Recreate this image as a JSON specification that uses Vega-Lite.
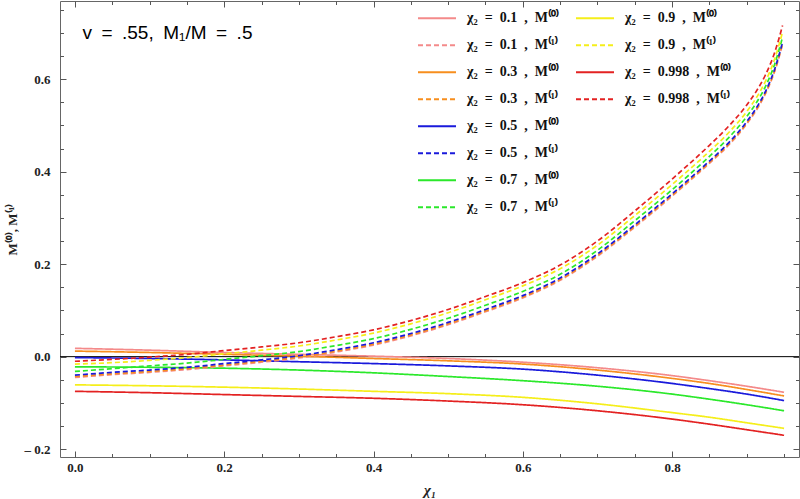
{
  "$schema": "https://vega.github.io/schema/vega-lite/v6.json",
  "width": 739,
  "height": 456,
  "autosize": "none",
  "padding": {"left": 60, "top": 1, "right": 1, "bottom": 42},
  "background": "white",
  "config": {
    "view": {"stroke": "#666", "strokeWidth": 1},
    "axis": {
      "domain": false, "grid": false,
      "labelFont": "Liberation Serif", "labelFontWeight": "bold", "labelFontSize": 13, "labelColor": "#222",
      "titleFont": "Liberation Serif", "titleFontWeight": "bold", "titleColor": "#222",
      "labelOverlap": false, "labelFlush": false
    },
    "legend": {
      "orient": "none", "title": null, "padding": 0,
      "symbolType": "stroke", "symbolSize": 1444, "symbolStrokeWidth": 2,
      "clipHeight": 26.3, "rowPadding": 0, "labelOffset": 10,
      "labelFont": "Liberation Serif", "labelFontWeight": "bold", "labelFontSize": 14, "labelColor": "#111"
    }
  },
  "data": {"values": [
    {"s":"χ₂ = 0.1 , M⁽⁰⁾","c":0.1,"m":"M0","x":0,"y":0.018},
    {"s":"χ₂ = 0.1 , M⁽⁰⁾","c":0.1,"m":"M0","x":0.1,"y":0.014},
    {"s":"χ₂ = 0.1 , M⁽⁰⁾","c":0.1,"m":"M0","x":0.2,"y":0.009},
    {"s":"χ₂ = 0.1 , M⁽⁰⁾","c":0.1,"m":"M0","x":0.3,"y":0.005},
    {"s":"χ₂ = 0.1 , M⁽⁰⁾","c":0.1,"m":"M0","x":0.4,"y":0.001},
    {"s":"χ₂ = 0.1 , M⁽⁰⁾","c":0.1,"m":"M0","x":0.5,"y":-0.004},
    {"s":"χ₂ = 0.1 , M⁽⁰⁾","c":0.1,"m":"M0","x":0.6,"y":-0.012},
    {"s":"χ₂ = 0.1 , M⁽⁰⁾","c":0.1,"m":"M0","x":0.7,"y":-0.024},
    {"s":"χ₂ = 0.1 , M⁽⁰⁾","c":0.1,"m":"M0","x":0.8,"y":-0.041},
    {"s":"χ₂ = 0.1 , M⁽⁰⁾","c":0.1,"m":"M0","x":0.85,"y":-0.052},
    {"s":"χ₂ = 0.1 , M⁽⁰⁾","c":0.1,"m":"M0","x":0.9,"y":-0.064},
    {"s":"χ₂ = 0.1 , M⁽⁰⁾","c":0.1,"m":"M0","x":0.95,"y":-0.077},

    {"s":"χ₂ = 0.3 , M⁽⁰⁾","c":0.3,"m":"M0","x":0,"y":0.012},
    {"s":"χ₂ = 0.3 , M⁽⁰⁾","c":0.3,"m":"M0","x":0.1,"y":0.009},
    {"s":"χ₂ = 0.3 , M⁽⁰⁾","c":0.3,"m":"M0","x":0.2,"y":0.005},
    {"s":"χ₂ = 0.3 , M⁽⁰⁾","c":0.3,"m":"M0","x":0.3,"y":0.001},
    {"s":"χ₂ = 0.3 , M⁽⁰⁾","c":0.3,"m":"M0","x":0.4,"y":-0.004},
    {"s":"χ₂ = 0.3 , M⁽⁰⁾","c":0.3,"m":"M0","x":0.5,"y":-0.009},
    {"s":"χ₂ = 0.3 , M⁽⁰⁾","c":0.3,"m":"M0","x":0.6,"y":-0.016},
    {"s":"χ₂ = 0.3 , M⁽⁰⁾","c":0.3,"m":"M0","x":0.7,"y":-0.029},
    {"s":"χ₂ = 0.3 , M⁽⁰⁾","c":0.3,"m":"M0","x":0.8,"y":-0.047},
    {"s":"χ₂ = 0.3 , M⁽⁰⁾","c":0.3,"m":"M0","x":0.85,"y":-0.058},
    {"s":"χ₂ = 0.3 , M⁽⁰⁾","c":0.3,"m":"M0","x":0.9,"y":-0.071},
    {"s":"χ₂ = 0.3 , M⁽⁰⁾","c":0.3,"m":"M0","x":0.95,"y":-0.085},

    {"s":"χ₂ = 0.5 , M⁽⁰⁾","c":0.5,"m":"M0","x":0,"y":-0.002},
    {"s":"χ₂ = 0.5 , M⁽⁰⁾","c":0.5,"m":"M0","x":0.1,"y":-0.004},
    {"s":"χ₂ = 0.5 , M⁽⁰⁾","c":0.5,"m":"M0","x":0.2,"y":-0.007},
    {"s":"χ₂ = 0.5 , M⁽⁰⁾","c":0.5,"m":"M0","x":0.3,"y":-0.011},
    {"s":"χ₂ = 0.5 , M⁽⁰⁾","c":0.5,"m":"M0","x":0.4,"y":-0.015},
    {"s":"χ₂ = 0.5 , M⁽⁰⁾","c":0.5,"m":"M0","x":0.5,"y":-0.020},
    {"s":"χ₂ = 0.5 , M⁽⁰⁾","c":0.5,"m":"M0","x":0.6,"y":-0.027},
    {"s":"χ₂ = 0.5 , M⁽⁰⁾","c":0.5,"m":"M0","x":0.7,"y":-0.040},
    {"s":"χ₂ = 0.5 , M⁽⁰⁾","c":0.5,"m":"M0","x":0.8,"y":-0.058},
    {"s":"χ₂ = 0.5 , M⁽⁰⁾","c":0.5,"m":"M0","x":0.85,"y":-0.069},
    {"s":"χ₂ = 0.5 , M⁽⁰⁾","c":0.5,"m":"M0","x":0.9,"y":-0.081},
    {"s":"χ₂ = 0.5 , M⁽⁰⁾","c":0.5,"m":"M0","x":0.95,"y":-0.095},

    {"s":"χ₂ = 0.7 , M⁽⁰⁾","c":0.7,"m":"M0","x":0,"y":-0.022},
    {"s":"χ₂ = 0.7 , M⁽⁰⁾","c":0.7,"m":"M0","x":0.1,"y":-0.023},
    {"s":"χ₂ = 0.7 , M⁽⁰⁾","c":0.7,"m":"M0","x":0.2,"y":-0.025},
    {"s":"χ₂ = 0.7 , M⁽⁰⁾","c":0.7,"m":"M0","x":0.3,"y":-0.029},
    {"s":"χ₂ = 0.7 , M⁽⁰⁾","c":0.7,"m":"M0","x":0.4,"y":-0.035},
    {"s":"χ₂ = 0.7 , M⁽⁰⁾","c":0.7,"m":"M0","x":0.5,"y":-0.043},
    {"s":"χ₂ = 0.7 , M⁽⁰⁾","c":0.7,"m":"M0","x":0.6,"y":-0.052},
    {"s":"χ₂ = 0.7 , M⁽⁰⁾","c":0.7,"m":"M0","x":0.7,"y":-0.064},
    {"s":"χ₂ = 0.7 , M⁽⁰⁾","c":0.7,"m":"M0","x":0.8,"y":-0.081},
    {"s":"χ₂ = 0.7 , M⁽⁰⁾","c":0.7,"m":"M0","x":0.85,"y":-0.092},
    {"s":"χ₂ = 0.7 , M⁽⁰⁾","c":0.7,"m":"M0","x":0.9,"y":-0.104},
    {"s":"χ₂ = 0.7 , M⁽⁰⁾","c":0.7,"m":"M0","x":0.95,"y":-0.117},

    {"s":"χ₂ = 0.9 , M⁽⁰⁾","c":0.9,"m":"M0","x":0,"y":-0.061},
    {"s":"χ₂ = 0.9 , M⁽⁰⁾","c":0.9,"m":"M0","x":0.1,"y":-0.063},
    {"s":"χ₂ = 0.9 , M⁽⁰⁾","c":0.9,"m":"M0","x":0.2,"y":-0.066},
    {"s":"χ₂ = 0.9 , M⁽⁰⁾","c":0.9,"m":"M0","x":0.3,"y":-0.070},
    {"s":"χ₂ = 0.9 , M⁽⁰⁾","c":0.9,"m":"M0","x":0.4,"y":-0.075},
    {"s":"χ₂ = 0.9 , M⁽⁰⁾","c":0.9,"m":"M0","x":0.5,"y":-0.080},
    {"s":"χ₂ = 0.9 , M⁽⁰⁾","c":0.9,"m":"M0","x":0.6,"y":-0.088},
    {"s":"χ₂ = 0.9 , M⁽⁰⁾","c":0.9,"m":"M0","x":0.7,"y":-0.102},
    {"s":"χ₂ = 0.9 , M⁽⁰⁾","c":0.9,"m":"M0","x":0.8,"y":-0.121},
    {"s":"χ₂ = 0.9 , M⁽⁰⁾","c":0.9,"m":"M0","x":0.85,"y":-0.131},
    {"s":"χ₂ = 0.9 , M⁽⁰⁾","c":0.9,"m":"M0","x":0.9,"y":-0.143},
    {"s":"χ₂ = 0.9 , M⁽⁰⁾","c":0.9,"m":"M0","x":0.95,"y":-0.155},

    {"s":"χ₂ = 0.998 , M⁽⁰⁾","c":0.998,"m":"M0","x":0,"y":-0.075},
    {"s":"χ₂ = 0.998 , M⁽⁰⁾","c":0.998,"m":"M0","x":0.1,"y":-0.078},
    {"s":"χ₂ = 0.998 , M⁽⁰⁾","c":0.998,"m":"M0","x":0.2,"y":-0.082},
    {"s":"χ₂ = 0.998 , M⁽⁰⁾","c":0.998,"m":"M0","x":0.3,"y":-0.086},
    {"s":"χ₂ = 0.998 , M⁽⁰⁾","c":0.998,"m":"M0","x":0.4,"y":-0.090},
    {"s":"χ₂ = 0.998 , M⁽⁰⁾","c":0.998,"m":"M0","x":0.5,"y":-0.096},
    {"s":"χ₂ = 0.998 , M⁽⁰⁾","c":0.998,"m":"M0","x":0.6,"y":-0.104},
    {"s":"χ₂ = 0.998 , M⁽⁰⁾","c":0.998,"m":"M0","x":0.7,"y":-0.117},
    {"s":"χ₂ = 0.998 , M⁽⁰⁾","c":0.998,"m":"M0","x":0.8,"y":-0.135},
    {"s":"χ₂ = 0.998 , M⁽⁰⁾","c":0.998,"m":"M0","x":0.85,"y":-0.146},
    {"s":"χ₂ = 0.998 , M⁽⁰⁾","c":0.998,"m":"M0","x":0.9,"y":-0.158},
    {"s":"χ₂ = 0.998 , M⁽⁰⁾","c":0.998,"m":"M0","x":0.95,"y":-0.170},

    {"s":"χ₂ = 0.1 , M⁽¹⁾","c":0.1,"m":"M1","x":0,"y":-0.045},
    {"s":"χ₂ = 0.1 , M⁽¹⁾","c":0.1,"m":"M1","x":0.05,"y":-0.039},
    {"s":"χ₂ = 0.1 , M⁽¹⁾","c":0.1,"m":"M1","x":0.1,"y":-0.034},
    {"s":"χ₂ = 0.1 , M⁽¹⁾","c":0.1,"m":"M1","x":0.15,"y":-0.028},
    {"s":"χ₂ = 0.1 , M⁽¹⁾","c":0.1,"m":"M1","x":0.2,"y":-0.020},
    {"s":"χ₂ = 0.1 , M⁽¹⁾","c":0.1,"m":"M1","x":0.25,"y":-0.012},
    {"s":"χ₂ = 0.1 , M⁽¹⁾","c":0.1,"m":"M1","x":0.3,"y":-0.003},
    {"s":"χ₂ = 0.1 , M⁽¹⁾","c":0.1,"m":"M1","x":0.35,"y":0.010},
    {"s":"χ₂ = 0.1 , M⁽¹⁾","c":0.1,"m":"M1","x":0.4,"y":0.025},
    {"s":"χ₂ = 0.1 , M⁽¹⁾","c":0.1,"m":"M1","x":0.45,"y":0.045},
    {"s":"χ₂ = 0.1 , M⁽¹⁾","c":0.1,"m":"M1","x":0.5,"y":0.069},
    {"s":"χ₂ = 0.1 , M⁽¹⁾","c":0.1,"m":"M1","x":0.55,"y":0.097},
    {"s":"χ₂ = 0.1 , M⁽¹⁾","c":0.1,"m":"M1","x":0.6,"y":0.127},
    {"s":"χ₂ = 0.1 , M⁽¹⁾","c":0.1,"m":"M1","x":0.65,"y":0.165},
    {"s":"χ₂ = 0.1 , M⁽¹⁾","c":0.1,"m":"M1","x":0.7,"y":0.217},
    {"s":"χ₂ = 0.1 , M⁽¹⁾","c":0.1,"m":"M1","x":0.75,"y":0.280},
    {"s":"χ₂ = 0.1 , M⁽¹⁾","c":0.1,"m":"M1","x":0.8,"y":0.347},
    {"s":"χ₂ = 0.1 , M⁽¹⁾","c":0.1,"m":"M1","x":0.85,"y":0.418},
    {"s":"χ₂ = 0.1 , M⁽¹⁾","c":0.1,"m":"M1","x":0.875,"y":0.456},
    {"s":"χ₂ = 0.1 , M⁽¹⁾","c":0.1,"m":"M1","x":0.9,"y":0.503},
    {"s":"χ₂ = 0.1 , M⁽¹⁾","c":0.1,"m":"M1","x":0.9125,"y":0.532},
    {"s":"χ₂ = 0.1 , M⁽¹⁾","c":0.1,"m":"M1","x":0.925,"y":0.568},
    {"s":"χ₂ = 0.1 , M⁽¹⁾","c":0.1,"m":"M1","x":0.9375,"y":0.617},
    {"s":"χ₂ = 0.1 , M⁽¹⁾","c":0.1,"m":"M1","x":0.948,"y":0.675},

    {"s":"χ₂ = 0.3 , M⁽¹⁾","c":0.3,"m":"M1","x":0,"y":-0.043},
    {"s":"χ₂ = 0.3 , M⁽¹⁾","c":0.3,"m":"M1","x":0.05,"y":-0.037},
    {"s":"χ₂ = 0.3 , M⁽¹⁾","c":0.3,"m":"M1","x":0.1,"y":-0.032},
    {"s":"χ₂ = 0.3 , M⁽¹⁾","c":0.3,"m":"M1","x":0.15,"y":-0.026},
    {"s":"χ₂ = 0.3 , M⁽¹⁾","c":0.3,"m":"M1","x":0.2,"y":-0.018},
    {"s":"χ₂ = 0.3 , M⁽¹⁾","c":0.3,"m":"M1","x":0.25,"y":-0.010},
    {"s":"χ₂ = 0.3 , M⁽¹⁾","c":0.3,"m":"M1","x":0.3,"y":-0.001},
    {"s":"χ₂ = 0.3 , M⁽¹⁾","c":0.3,"m":"M1","x":0.35,"y":0.012},
    {"s":"χ₂ = 0.3 , M⁽¹⁾","c":0.3,"m":"M1","x":0.4,"y":0.027},
    {"s":"χ₂ = 0.3 , M⁽¹⁾","c":0.3,"m":"M1","x":0.45,"y":0.047},
    {"s":"χ₂ = 0.3 , M⁽¹⁾","c":0.3,"m":"M1","x":0.5,"y":0.071},
    {"s":"χ₂ = 0.3 , M⁽¹⁾","c":0.3,"m":"M1","x":0.55,"y":0.099},
    {"s":"χ₂ = 0.3 , M⁽¹⁾","c":0.3,"m":"M1","x":0.6,"y":0.129},
    {"s":"χ₂ = 0.3 , M⁽¹⁾","c":0.3,"m":"M1","x":0.65,"y":0.167},
    {"s":"χ₂ = 0.3 , M⁽¹⁾","c":0.3,"m":"M1","x":0.7,"y":0.219},
    {"s":"χ₂ = 0.3 , M⁽¹⁾","c":0.3,"m":"M1","x":0.75,"y":0.282},
    {"s":"χ₂ = 0.3 , M⁽¹⁾","c":0.3,"m":"M1","x":0.8,"y":0.349},
    {"s":"χ₂ = 0.3 , M⁽¹⁾","c":0.3,"m":"M1","x":0.85,"y":0.420},
    {"s":"χ₂ = 0.3 , M⁽¹⁾","c":0.3,"m":"M1","x":0.875,"y":0.458},
    {"s":"χ₂ = 0.3 , M⁽¹⁾","c":0.3,"m":"M1","x":0.9,"y":0.505},
    {"s":"χ₂ = 0.3 , M⁽¹⁾","c":0.3,"m":"M1","x":0.9125,"y":0.534},
    {"s":"χ₂ = 0.3 , M⁽¹⁾","c":0.3,"m":"M1","x":0.925,"y":0.570},
    {"s":"χ₂ = 0.3 , M⁽¹⁾","c":0.3,"m":"M1","x":0.9375,"y":0.619},
    {"s":"χ₂ = 0.3 , M⁽¹⁾","c":0.3,"m":"M1","x":0.948,"y":0.677},

    {"s":"χ₂ = 0.5 , M⁽¹⁾","c":0.5,"m":"M1","x":0,"y":-0.040},
    {"s":"χ₂ = 0.5 , M⁽¹⁾","c":0.5,"m":"M1","x":0.05,"y":-0.034},
    {"s":"χ₂ = 0.5 , M⁽¹⁾","c":0.5,"m":"M1","x":0.1,"y":-0.029},
    {"s":"χ₂ = 0.5 , M⁽¹⁾","c":0.5,"m":"M1","x":0.15,"y":-0.023},
    {"s":"χ₂ = 0.5 , M⁽¹⁾","c":0.5,"m":"M1","x":0.2,"y":-0.015},
    {"s":"χ₂ = 0.5 , M⁽¹⁾","c":0.5,"m":"M1","x":0.25,"y":-0.007},
    {"s":"χ₂ = 0.5 , M⁽¹⁾","c":0.5,"m":"M1","x":0.3,"y":0.002},
    {"s":"χ₂ = 0.5 , M⁽¹⁾","c":0.5,"m":"M1","x":0.35,"y":0.015},
    {"s":"χ₂ = 0.5 , M⁽¹⁾","c":0.5,"m":"M1","x":0.4,"y":0.030},
    {"s":"χ₂ = 0.5 , M⁽¹⁾","c":0.5,"m":"M1","x":0.45,"y":0.050},
    {"s":"χ₂ = 0.5 , M⁽¹⁾","c":0.5,"m":"M1","x":0.5,"y":0.074},
    {"s":"χ₂ = 0.5 , M⁽¹⁾","c":0.5,"m":"M1","x":0.55,"y":0.102},
    {"s":"χ₂ = 0.5 , M⁽¹⁾","c":0.5,"m":"M1","x":0.6,"y":0.132},
    {"s":"χ₂ = 0.5 , M⁽¹⁾","c":0.5,"m":"M1","x":0.65,"y":0.170},
    {"s":"χ₂ = 0.5 , M⁽¹⁾","c":0.5,"m":"M1","x":0.7,"y":0.222},
    {"s":"χ₂ = 0.5 , M⁽¹⁾","c":0.5,"m":"M1","x":0.75,"y":0.285},
    {"s":"χ₂ = 0.5 , M⁽¹⁾","c":0.5,"m":"M1","x":0.8,"y":0.352},
    {"s":"χ₂ = 0.5 , M⁽¹⁾","c":0.5,"m":"M1","x":0.85,"y":0.423},
    {"s":"χ₂ = 0.5 , M⁽¹⁾","c":0.5,"m":"M1","x":0.875,"y":0.461},
    {"s":"χ₂ = 0.5 , M⁽¹⁾","c":0.5,"m":"M1","x":0.9,"y":0.508},
    {"s":"χ₂ = 0.5 , M⁽¹⁾","c":0.5,"m":"M1","x":0.9125,"y":0.537},
    {"s":"χ₂ = 0.5 , M⁽¹⁾","c":0.5,"m":"M1","x":0.925,"y":0.573},
    {"s":"χ₂ = 0.5 , M⁽¹⁾","c":0.5,"m":"M1","x":0.9375,"y":0.622},
    {"s":"χ₂ = 0.5 , M⁽¹⁾","c":0.5,"m":"M1","x":0.948,"y":0.680},

    {"s":"χ₂ = 0.7 , M⁽¹⁾","c":0.7,"m":"M1","x":0,"y":-0.032},
    {"s":"χ₂ = 0.7 , M⁽¹⁾","c":0.7,"m":"M1","x":0.05,"y":-0.026},
    {"s":"χ₂ = 0.7 , M⁽¹⁾","c":0.7,"m":"M1","x":0.1,"y":-0.020},
    {"s":"χ₂ = 0.7 , M⁽¹⁾","c":0.7,"m":"M1","x":0.15,"y":-0.014},
    {"s":"χ₂ = 0.7 , M⁽¹⁾","c":0.7,"m":"M1","x":0.2,"y":-0.006},
    {"s":"χ₂ = 0.7 , M⁽¹⁾","c":0.7,"m":"M1","x":0.25,"y":0.002},
    {"s":"χ₂ = 0.7 , M⁽¹⁾","c":0.7,"m":"M1","x":0.3,"y":0.011},
    {"s":"χ₂ = 0.7 , M⁽¹⁾","c":0.7,"m":"M1","x":0.35,"y":0.024},
    {"s":"χ₂ = 0.7 , M⁽¹⁾","c":0.7,"m":"M1","x":0.4,"y":0.039},
    {"s":"χ₂ = 0.7 , M⁽¹⁾","c":0.7,"m":"M1","x":0.45,"y":0.059},
    {"s":"χ₂ = 0.7 , M⁽¹⁾","c":0.7,"m":"M1","x":0.5,"y":0.083},
    {"s":"χ₂ = 0.7 , M⁽¹⁾","c":0.7,"m":"M1","x":0.55,"y":0.111},
    {"s":"χ₂ = 0.7 , M⁽¹⁾","c":0.7,"m":"M1","x":0.6,"y":0.141},
    {"s":"χ₂ = 0.7 , M⁽¹⁾","c":0.7,"m":"M1","x":0.65,"y":0.178},
    {"s":"χ₂ = 0.7 , M⁽¹⁾","c":0.7,"m":"M1","x":0.7,"y":0.230},
    {"s":"χ₂ = 0.7 , M⁽¹⁾","c":0.7,"m":"M1","x":0.75,"y":0.294},
    {"s":"χ₂ = 0.7 , M⁽¹⁾","c":0.7,"m":"M1","x":0.8,"y":0.361},
    {"s":"χ₂ = 0.7 , M⁽¹⁾","c":0.7,"m":"M1","x":0.85,"y":0.433},
    {"s":"χ₂ = 0.7 , M⁽¹⁾","c":0.7,"m":"M1","x":0.875,"y":0.472},
    {"s":"χ₂ = 0.7 , M⁽¹⁾","c":0.7,"m":"M1","x":0.9,"y":0.519},
    {"s":"χ₂ = 0.7 , M⁽¹⁾","c":0.7,"m":"M1","x":0.9125,"y":0.548},
    {"s":"χ₂ = 0.7 , M⁽¹⁾","c":0.7,"m":"M1","x":0.925,"y":0.584},
    {"s":"χ₂ = 0.7 , M⁽¹⁾","c":0.7,"m":"M1","x":0.9375,"y":0.633},
    {"s":"χ₂ = 0.7 , M⁽¹⁾","c":0.7,"m":"M1","x":0.948,"y":0.691},

    {"s":"χ₂ = 0.9 , M⁽¹⁾","c":0.9,"m":"M1","x":0,"y":-0.016},
    {"s":"χ₂ = 0.9 , M⁽¹⁾","c":0.9,"m":"M1","x":0.05,"y":-0.013},
    {"s":"χ₂ = 0.9 , M⁽¹⁾","c":0.9,"m":"M1","x":0.1,"y":-0.008},
    {"s":"χ₂ = 0.9 , M⁽¹⁾","c":0.9,"m":"M1","x":0.15,"y":-0.002},
    {"s":"χ₂ = 0.9 , M⁽¹⁾","c":0.9,"m":"M1","x":0.2,"y":0.006},
    {"s":"χ₂ = 0.9 , M⁽¹⁾","c":0.9,"m":"M1","x":0.25,"y":0.014},
    {"s":"χ₂ = 0.9 , M⁽¹⁾","c":0.9,"m":"M1","x":0.3,"y":0.023},
    {"s":"χ₂ = 0.9 , M⁽¹⁾","c":0.9,"m":"M1","x":0.35,"y":0.036},
    {"s":"χ₂ = 0.9 , M⁽¹⁾","c":0.9,"m":"M1","x":0.4,"y":0.051},
    {"s":"χ₂ = 0.9 , M⁽¹⁾","c":0.9,"m":"M1","x":0.45,"y":0.071},
    {"s":"χ₂ = 0.9 , M⁽¹⁾","c":0.9,"m":"M1","x":0.5,"y":0.095},
    {"s":"χ₂ = 0.9 , M⁽¹⁾","c":0.9,"m":"M1","x":0.55,"y":0.123},
    {"s":"χ₂ = 0.9 , M⁽¹⁾","c":0.9,"m":"M1","x":0.6,"y":0.153},
    {"s":"χ₂ = 0.9 , M⁽¹⁾","c":0.9,"m":"M1","x":0.65,"y":0.190},
    {"s":"χ₂ = 0.9 , M⁽¹⁾","c":0.9,"m":"M1","x":0.7,"y":0.241},
    {"s":"χ₂ = 0.9 , M⁽¹⁾","c":0.9,"m":"M1","x":0.75,"y":0.305},
    {"s":"χ₂ = 0.9 , M⁽¹⁾","c":0.9,"m":"M1","x":0.8,"y":0.372},
    {"s":"χ₂ = 0.9 , M⁽¹⁾","c":0.9,"m":"M1","x":0.85,"y":0.444},
    {"s":"χ₂ = 0.9 , M⁽¹⁾","c":0.9,"m":"M1","x":0.875,"y":0.483},
    {"s":"χ₂ = 0.9 , M⁽¹⁾","c":0.9,"m":"M1","x":0.9,"y":0.530},
    {"s":"χ₂ = 0.9 , M⁽¹⁾","c":0.9,"m":"M1","x":0.9125,"y":0.559},
    {"s":"χ₂ = 0.9 , M⁽¹⁾","c":0.9,"m":"M1","x":0.925,"y":0.595},
    {"s":"χ₂ = 0.9 , M⁽¹⁾","c":0.9,"m":"M1","x":0.9375,"y":0.644},
    {"s":"χ₂ = 0.9 , M⁽¹⁾","c":0.9,"m":"M1","x":0.948,"y":0.702},

    {"s":"χ₂ = 0.998 , M⁽¹⁾","c":0.998,"m":"M1","x":0,"y":-0.010},
    {"s":"χ₂ = 0.998 , M⁽¹⁾","c":0.998,"m":"M1","x":0.05,"y":-0.006},
    {"s":"χ₂ = 0.998 , M⁽¹⁾","c":0.998,"m":"M1","x":0.1,"y":-0.001},
    {"s":"χ₂ = 0.998 , M⁽¹⁾","c":0.998,"m":"M1","x":0.15,"y":0.005},
    {"s":"χ₂ = 0.998 , M⁽¹⁾","c":0.998,"m":"M1","x":0.2,"y":0.013},
    {"s":"χ₂ = 0.998 , M⁽¹⁾","c":0.998,"m":"M1","x":0.25,"y":0.021},
    {"s":"χ₂ = 0.998 , M⁽¹⁾","c":0.998,"m":"M1","x":0.3,"y":0.030},
    {"s":"χ₂ = 0.998 , M⁽¹⁾","c":0.998,"m":"M1","x":0.35,"y":0.043},
    {"s":"χ₂ = 0.998 , M⁽¹⁾","c":0.998,"m":"M1","x":0.4,"y":0.058},
    {"s":"χ₂ = 0.998 , M⁽¹⁾","c":0.998,"m":"M1","x":0.45,"y":0.078},
    {"s":"χ₂ = 0.998 , M⁽¹⁾","c":0.998,"m":"M1","x":0.5,"y":0.102},
    {"s":"χ₂ = 0.998 , M⁽¹⁾","c":0.998,"m":"M1","x":0.55,"y":0.130},
    {"s":"χ₂ = 0.998 , M⁽¹⁾","c":0.998,"m":"M1","x":0.6,"y":0.160},
    {"s":"χ₂ = 0.998 , M⁽¹⁾","c":0.998,"m":"M1","x":0.65,"y":0.198},
    {"s":"χ₂ = 0.998 , M⁽¹⁾","c":0.998,"m":"M1","x":0.7,"y":0.250},
    {"s":"χ₂ = 0.998 , M⁽¹⁾","c":0.998,"m":"M1","x":0.75,"y":0.315},
    {"s":"χ₂ = 0.998 , M⁽¹⁾","c":0.998,"m":"M1","x":0.8,"y":0.384},
    {"s":"χ₂ = 0.998 , M⁽¹⁾","c":0.998,"m":"M1","x":0.85,"y":0.457},
    {"s":"χ₂ = 0.998 , M⁽¹⁾","c":0.998,"m":"M1","x":0.875,"y":0.497},
    {"s":"χ₂ = 0.998 , M⁽¹⁾","c":0.998,"m":"M1","x":0.9,"y":0.544},
    {"s":"χ₂ = 0.998 , M⁽¹⁾","c":0.998,"m":"M1","x":0.9125,"y":0.573},
    {"s":"χ₂ = 0.998 , M⁽¹⁾","c":0.998,"m":"M1","x":0.925,"y":0.609},
    {"s":"χ₂ = 0.998 , M⁽¹⁾","c":0.998,"m":"M1","x":0.9375,"y":0.658},
    {"s":"χ₂ = 0.998 , M⁽¹⁾","c":0.998,"m":"M1","x":0.948,"y":0.716}
  ]},
  "layer": [
    {
      "data": {"values": [{}]},
      "mark": {"type": "rule", "color": "black", "strokeWidth": 1},
      "encoding": {
        "y": {
          "datum": 0, "type": "quantitative",
          "scale": {"domain": [-0.217, 0.769], "zero": false, "nice": false},
          "axis": {"orient": "right", "labels": false, "title": null, "ticks": true, "tickColor": "#555", "tickOpacity": 1, "tickWidth": 1, "offset": -6, "tickSize": 6, "values": [-0.2, 0, 0.2, 0.4, 0.6]}
        }
      }
    },
    {
      "data": {"values": [{}]},
      "mark": {"type": "rule", "opacity": 0},
      "encoding": {
        "x": {
          "datum": 0, "type": "quantitative",
          "scale": {"domain": [-0.02, 0.97], "zero": false, "nice": false},
          "axis": {"orient": "top", "labels": false, "title": null, "ticks": true, "tickColor": "#555", "tickOpacity": 1, "tickWidth": 1, "offset": -6, "tickSize": 6, "values": [0, 0.2, 0.4, 0.6, 0.8]}
        }
      }
    },
    {
      "transform": [{"filter": {"field": "c", "lte": 0.7}}],
      "mark": {"type": "line", "strokeWidth": 1.7, "interpolate": "monotone"},
      "encoding": {
        "x": {
          "field": "x", "type": "quantitative",
          "scale": {"domain": [-0.02, 0.97], "zero": false, "nice": false},
          "axis": {
            "orient": "bottom", "ticks": true, "tickColor": "#555", "tickOpacity": 1, "tickWidth": 1, "offset": -6, "tickSize": 6, "values": [0, 0.2, 0.4, 0.6, 0.8],
            "labelExpr": "format(datum.value, '.1f')",
            "labelPadding": 4,
            "title": "χ₁", "titleFontSize": 15, "titleFontStyle": "italic", "titlePadding": 8
          }
        },
        "y": {
          "field": "y", "type": "quantitative",
          "scale": {"domain": [-0.217, 0.769], "zero": false, "nice": false},
          "axis": {
            "orient": "left", "ticks": true, "tickColor": "#555", "tickOpacity": 1, "tickWidth": 1, "offset": -6, "tickSize": 6, "values": [-0.2, 0, 0.2, 0.4, 0.6],
            "labelExpr": "datum.value < -0.001 ? '– ' + format(-datum.value, '.1f') : format(abs(datum.value), '.1f')",
            "labelPadding": 10,
            "title": "M⁽⁰⁾, M⁽¹⁾", "titleFontSize": 13, "titlePadding": 5
          }
        },
        "color": {
          "field": "s", "type": "nominal",
          "scale": {
            "domain": ["χ₂ = 0.1 , M⁽⁰⁾", "χ₂ = 0.1 , M⁽¹⁾", "χ₂ = 0.3 , M⁽⁰⁾", "χ₂ = 0.3 , M⁽¹⁾", "χ₂ = 0.5 , M⁽⁰⁾", "χ₂ = 0.5 , M⁽¹⁾", "χ₂ = 0.7 , M⁽⁰⁾", "χ₂ = 0.7 , M⁽¹⁾"],
            "range": ["#F48A8A", "#F48A8A", "#F78E1E", "#F78E1E", "#1A1ADB", "#1A1ADB", "#2BE82B", "#2BE82B"]
          },
          "legend": {
            "legendX": 357, "legendY": 4,
            "labelExpr": "join(split(datum.label, ' '), '\u2002')",
            "encode": {"symbols": {"update": {"strokeDash": {"signal": "indexof(datum.value, '⁽¹⁾') >= 0 ? [5, 3] : [1, 0]"}}}}
          }
        },
        "strokeDash": {
          "field": "m", "type": "nominal",
          "scale": {"domain": ["M0", "M1"], "range": [[1, 0], [5, 3]]},
          "legend": null
        }
      }
    },
    {
      "transform": [{"filter": {"field": "c", "gt": 0.7}}],
      "mark": {"type": "line", "strokeWidth": 1.7, "interpolate": "monotone"},
      "encoding": {
        "x": {
          "field": "x", "type": "quantitative",
          "scale": {"domain": [-0.02, 0.97], "zero": false, "nice": false},
          "axis": {
            "orient": "bottom", "ticks": true, "tickColor": "#555", "tickOpacity": 1, "tickWidth": 1, "offset": -3.5, "tickSize": 3.5, "labels": false, "title": null,
            "values": [0.05, 0.1, 0.15, 0.25, 0.3, 0.35, 0.45, 0.5, 0.55, 0.65, 0.7, 0.75, 0.85, 0.9, 0.95]
          }
        },
        "y": {
          "field": "y", "type": "quantitative",
          "scale": {"domain": [-0.217, 0.769], "zero": false, "nice": false},
          "axis": {
            "orient": "left", "ticks": true, "tickColor": "#555", "tickOpacity": 1, "tickWidth": 1, "offset": -3.5, "tickSize": 3.5, "labels": false, "title": null,
            "values": [-0.15, -0.1, -0.05, 0.05, 0.1, 0.15, 0.25, 0.3, 0.35, 0.45, 0.5, 0.55, 0.65, 0.7, 0.75]
          }
        },
        "color": {
          "field": "s", "type": "nominal",
          "scale": {
            "domain": ["χ₂ = 0.9 , M⁽⁰⁾", "χ₂ = 0.9 , M⁽¹⁾", "χ₂ = 0.998 , M⁽⁰⁾", "χ₂ = 0.998 , M⁽¹⁾"],
            "range": ["#F5EE1A", "#F5EE1A", "#E32222", "#E32222"]
          },
          "legend": {
            "legendX": 515, "legendY": 4,
            "labelExpr": "join(split(datum.label, ' '), '\u2002')",
            "encode": {"symbols": {"update": {"strokeDash": {"signal": "indexof(datum.value, '⁽¹⁾') >= 0 ? [5, 3] : [1, 0]"}}}}
          }
        },
        "strokeDash": {
          "field": "m", "type": "nominal",
          "scale": {"domain": ["M0", "M1"], "range": [[1, 0], [5, 3]]},
          "legend": null
        }
      }
    },
    {
      "data": {"values": [{}]},
      "mark": {"type": "text", "align": "left", "baseline": "middle", "font": "Liberation Sans", "fontSize": 19, "color": "black"},
      "encoding": {
        "x": {
          "datum": 0.01, "type": "quantitative",
          "scale": {"domain": [-0.02, 0.97], "zero": false, "nice": false},
          "axis": {
            "orient": "top", "ticks": true, "tickColor": "#555", "tickOpacity": 1, "tickWidth": 1, "offset": -3.5, "tickSize": 3.5, "labels": false, "title": null,
            "values": [0.05, 0.1, 0.15, 0.25, 0.3, 0.35, 0.45, 0.5, 0.55, 0.65, 0.7, 0.75, 0.85, 0.9, 0.95]
          }
        },
        "y": {
          "datum": 0.70, "type": "quantitative",
          "scale": {"domain": [-0.217, 0.769], "zero": false, "nice": false},
          "axis": {
            "orient": "right", "ticks": true, "tickColor": "#555", "tickOpacity": 1, "tickWidth": 1, "offset": -3.5, "tickSize": 3.5, "labels": false, "title": null,
            "values": [-0.15, -0.1, -0.05, 0.05, 0.1, 0.15, 0.25, 0.3, 0.35, 0.45, 0.5, 0.55, 0.65, 0.7, 0.75]
          }
        },
        "text": {"value": "v\u2002=\u2002.55,\u2002M₁/M\u2002=\u2002.5"}
      }
    }
  ],
  "resolve": {
    "scale": {"color": "independent"},
    "axis": {"x": "independent", "y": "independent"}
  }
}
